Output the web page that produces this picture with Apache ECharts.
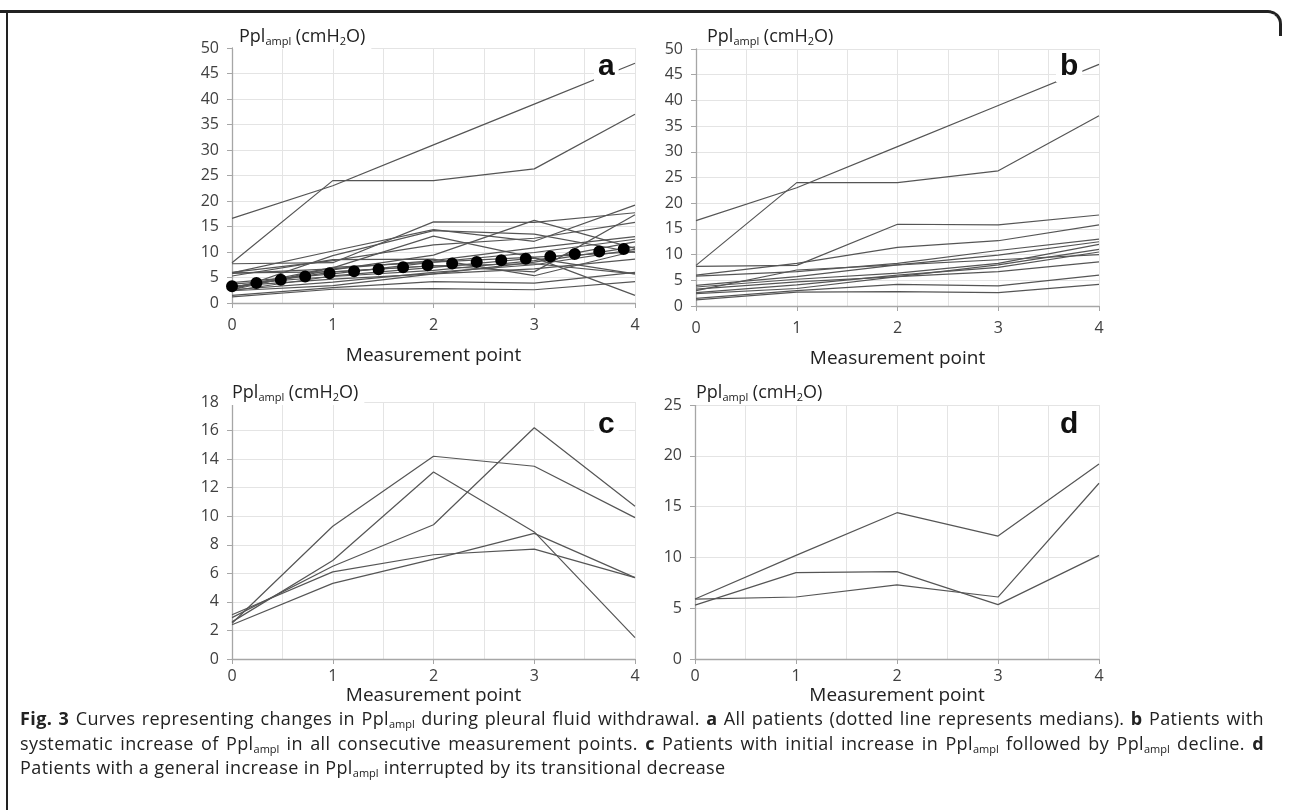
<!DOCTYPE html>
<html>
<head>
<meta charset="utf-8">
<script src="https://cdn.jsdelivr.net/npm/echarts@6/dist/echarts.min.js"></script>
<style>
  html, body { margin: 0; padding: 0; background: #fff; }
  #wrap { position: relative; width: 1292px; height: 810px; overflow: hidden; }
  #chart { position: absolute; left: 0; top: 0; width: 1292px; height: 810px; }
  .frame-top { position: absolute; left: 0; top: 10px; width: 1282px; height: 26px;
    border-top: 3px solid #222; border-right: 3px solid #222; border-radius: 0 14px 0 0; box-sizing: border-box; }
  .frame-left { position: absolute; left: 6px; top: 10px; width: 2px; height: 800px; background: #222; }
  #caption { position: absolute; left: 20px; top: 706px; width: 1244px;
    font-family: "Open Sans", "Noto Sans", sans-serif; font-size: 18px; letter-spacing: 0.4px;
    line-height: 24.5px; color: #222; }
  #caption .j { text-align: justify; text-align-last: justify; }
  #caption b { font-weight: 700; }
  #caption sub { font-size: 11px; vertical-align: -3px; line-height: 0; letter-spacing: 0; }
</style>
</head>
<body>
<div id="wrap">
  <div class="frame-top"></div>
  <div class="frame-left"></div>
  <div id="chart"></div>
  <div id="caption">
    <div class="j"><b>Fig. 3</b> Curves representing changes in Ppl<sub>ampl</sub> during pleural fluid withdrawal. <b>a</b> All patients (dotted line represents medians). <b>b</b> Patients with</div>
    <div class="j">systematic increase of Ppl<sub>ampl</sub> in all consecutive measurement points. <b>c</b> Patients with initial increase in Ppl<sub>ampl</sub> followed by Ppl<sub>ampl</sub> decline. <b>d</b></div>
    <div>Patients with a general increase in Ppl<sub>ampl</sub> interrupted by its transitional decrease</div>
  </div>
</div>
<script>
// measurement points 0..4
const points = [0, 1, 2, 3, 4]

// b: systematic increase
const groupB = [
  [16.6, 23.0, 31.0, 39.0, 47.0],
  [7.9, 24.0, 24.0, 26.3, 37.0],
  [7.7, 7.9, 15.9, 15.8, 17.7],
  [6.0, 8.3, 11.4, 12.7, 15.8],
  [5.8, 6.7, 8.3, 10.8, 13.0],
  [4.0, 5.7, 8.0, 9.9, 12.5],
  [3.7, 5.2, 6.4, 8.3, 12.0],
  [3.3, 4.7, 5.7, 8.0, 11.0],
  [3.0, 7.0, 8.0, 9.0, 10.0],
  [2.6, 4.1, 6.0, 7.5, 10.5],
  [2.4, 3.4, 5.7, 6.7, 8.6],
  [1.5, 3.0, 4.2, 3.9, 6.0],
  [1.2, 2.7, 2.8, 2.6, 4.2]
]

// c: initial increase then decline
const groupC = [
  [2.5, 9.3, 14.2, 13.5, 9.9],
  [2.6, 6.9, 13.1, 8.9, 1.5],
  [2.9, 6.5, 9.4, 16.2, 10.7],
  [3.1, 6.1, 7.3, 7.7, 5.7],
  [2.4, 5.3, 7.0, 8.8, 5.7]
]

// d: increase interrupted by transitional decrease
const groupD = [
  [5.9, 10.2, 14.4, 12.1, 19.2],
  [5.9, 6.1, 7.3, 6.1, 17.3],
  [5.3, 8.5, 8.6, 5.35, 10.2]
]

// medians of all patients
const medians = [3.3, 5.9, 7.5, 8.8, 10.8]

const yTicksAB = { max: 50, interval: 5 }
const yTicksC = { max: 18, interval: 2 }
const yTicksD = { max: 25, interval: 5 }

const LINE = '#555'
const AXIS = '#a6a6a6'
const GRID = '#e4e4e4'
const TEXT = '#404040'
const FONT = '"Open Sans", "Noto Sans", sans-serif'

const grids = [
  { left: 232, top: 48, width: 403, height: 255 },
  { left: 696, top: 49, width: 403, height: 257 },
  { left: 232, top: 402, width: 403, height: 257 },
  { left: 695, top: 405, width: 404, height: 254 }
]
const nameGaps = [43, 43, 27, 27]

const xAxisFor = (i) => ({
  gridIndex: i,
  type: 'value',
  min: 0,
  max: 4,
  interval: 1,
  name: 'Measurement point',
  nameLocation: 'middle',
  nameGap: nameGaps[i],
  nameTextStyle: { color: '#222', fontSize: 19, fontFamily: FONT },
  axisLine: { lineStyle: { color: AXIS, width: 1.3 } },
  axisTick: { show: true, length: 5, lineStyle: { color: AXIS } },
  axisLabel: { color: TEXT, fontSize: 16, fontFamily: FONT, margin: i < 2 ? 14 : 9 },
  splitLine: { show: true, lineStyle: { color: GRID } },
  minorTick: { show: false, splitNumber: 2 },
  minorSplitLine: { show: true, lineStyle: { color: GRID } }
})

const yAxisFor = (i, t) => ({
  gridIndex: i,
  type: 'value',
  min: 0,
  max: t.max,
  interval: t.interval,
  axisLine: { show: true, lineStyle: { color: AXIS, width: 1.3 } },
  axisTick: { show: true, length: 5, lineStyle: { color: AXIS } },
  axisLabel: { color: TEXT, fontSize: 16, fontFamily: FONT, margin: 13 },
  splitLine: { show: true, lineStyle: { color: GRID } }
})

const toPairs = (vals) => vals.map((v, k) => [points[k], v])

const groupSeries = (rows, i) => rows.map((row) => ({
  type: 'line',
  xAxisIndex: i,
  yAxisIndex: i,
  data: toPairs(row),
  symbol: 'none',
  silent: true,
  clip: false,
  lineStyle: { color: LINE, width: 1.2 },
  z: 2
}))

const allPatients = [...groupB, ...groupC, ...groupD]

const titleText = '{n|Ppl}{s|ampl}{n| (cmH}{s|2}{n|O)}'
const titleRich = {
  n: { fontSize: 18, fontWeight: 'normal', fontFamily: FONT, color: '#222', lineHeight: 26 },
  s: { fontSize: 11, fontWeight: 'normal', fontFamily: FONT, color: '#222', lineHeight: 26, padding: [9, 0, 0, 0] }
}
const panelTitle = (left, top) => ({
  text: titleText,
  left, top,
  padding: [2, 6, 2, 6],
  backgroundColor: '#fff',
  textStyle: { fontWeight: 'normal', rich: titleRich }
})

const letter = (text, left, top) => ({
  text,
  left, top,
  padding: [0, 4, 0, 4],
  backgroundColor: '#fff',
  textStyle: { fontSize: 30, fontWeight: 'bold', fontFamily: 'Liberation Sans, Arial, sans-serif', color: '#111' }
})

const chart = echarts.init(document.getElementById('chart'))
chart.setOption({
  animation: false,
  backgroundColor: 'transparent',
  title: [
    panelTitle(233, 22),
    panelTitle(701, 22),
    panelTitle(226, 378),
    panelTitle(690, 378),
    letter('a', 594, 52),
    letter('b', 1056, 52),
    letter('c', 594, 410),
    letter('d', 1056, 410)
  ],
  grid: grids,
  xAxis: [0, 1, 2, 3].map(xAxisFor),
  yAxis: [yAxisFor(0, yTicksAB), yAxisFor(1, yTicksAB), yAxisFor(2, yTicksC), yAxisFor(3, yTicksD)],
  series: [
    ...groupSeries(allPatients, 0),
    {
      type: 'line',
      xAxisIndex: 0,
      yAxisIndex: 0,
      data: toPairs(medians),
      symbol: 'none',
      silent: true,
      clip: false,
      lineStyle: { color: '#000', width: 12, type: [0, 24.6], cap: 'round' },
      z: 5
    },
    ...groupSeries(groupB, 1),
    ...groupSeries(groupC, 2),
    ...groupSeries(groupD, 3)
  ]
})
</script>
</body>
</html>
